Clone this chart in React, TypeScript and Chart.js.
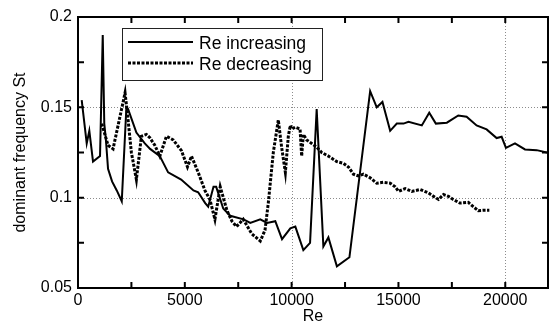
import React, { useEffect, useRef } from 'react';
import { Chart, registerables } from 'chart.js';

Chart.register(...registerables);

// Re increasing (solid)
const reInc = [173, 408, 530, 703, 1031, 1158, 1230, 1300, 1406, 1594, 1814, 2048, 2265, 2344, 2733, 3127, 3375, 3830, 4219, 4829, 5405, 5625, 5954, 6094, 6343, 6469, 6798, 7126, 7750, 8063, 8532, 8846, 9235, 9550, 9938, 10173, 10548, 10862, 11172, 11485, 11720, 12118, 12705, 13675, 13984, 14251, 14612, 14922, 15236, 15470, 16094, 16441, 16750, 17266, 17800, 18190, 18658, 19127, 19596, 19830, 20032, 20454, 20923, 21471, 22000];
const stInc = [0.154, 0.130, 0.137, 0.120, 0.123, 0.190, 0.141, 0.133, 0.116, 0.109, 0.104, 0.098, 0.150, 0.149, 0.136, 0.130, 0.127, 0.123, 0.114, 0.110, 0.104, 0.103, 0.097, 0.095, 0.106, 0.106, 0.094, 0.090, 0.088, 0.086, 0.088, 0.086, 0.087, 0.077, 0.083, 0.084, 0.071, 0.075, 0.149, 0.073, 0.078, 0.062, 0.067, 0.159, 0.150, 0.153, 0.137, 0.141, 0.141, 0.142, 0.140, 0.147, 0.141, 0.1415, 0.1455, 0.1448, 0.140, 0.1378, 0.133, 0.1337, 0.1276, 0.130, 0.1267, 0.1263, 0.1248];

// Re decreasing (dashed)
const reDec = [1111, 1406, 1641, 2203, 2344, 2499, 2733, 2968, 3202, 3375, 3595, 3830, 4140, 4454, 4843, 5124, 5312, 5626, 5940, 6174, 6409, 6657, 6971, 7205, 7421, 7735, 8134, 8532, 8753, 8907, 9142, 9376, 9530, 9706, 9845, 9938, 10000, 10160, 10394, 10469, 10548, 10703, 10938, 11172, 11406, 11720, 12110, 12423, 12658, 12892, 13126, 13361, 13675, 13984, 14298, 14612, 14847, 15002, 15316, 15625, 16019, 16408, 16642, 16877, 17111, 17346, 17566, 17875, 18269, 18503, 18738, 18972, 19254];
const stDec = [0.141, 0.129, 0.127, 0.158, 0.143, 0.125, 0.110, 0.134, 0.135, 0.133, 0.129, 0.123, 0.134, 0.132, 0.126, 0.117, 0.123, 0.114, 0.104, 0.099, 0.088, 0.106, 0.093, 0.087, 0.084, 0.088, 0.080, 0.076, 0.082, 0.097, 0.125, 0.143, 0.128, 0.114, 0.134, 0.140, 0.138, 0.139, 0.138, 0.123, 0.135, 0.132, 0.130, 0.128, 0.125, 0.123, 0.120, 0.119, 0.117, 0.113, 0.112, 0.113, 0.111, 0.108, 0.1085, 0.108, 0.106, 0.1035, 0.105, 0.1035, 0.1045, 0.1026, 0.1007, 0.099, 0.1017, 0.1007, 0.099, 0.097, 0.0974, 0.095, 0.0928, 0.093, 0.093];

const seriesNames = ['Re increasing', 'Re decreasing'];

const xTickValues = [0, 5000, 10000, 15000, 20000];
const xTickLabels = ['0', '5000', '10000', '15000', '20000'];
const yTickValues = [0.05, 0.1, 0.15, 0.2];
const yTickLabels = ['0.05', '0.1', '0.15', '0.2'];
const xTickMarks = [2500, 5000, 7500, 10000, 12500, 15000, 17500, 20000];
const yTickMarks = [0.075, 0.1, 0.125, 0.15, 0.175];
const xGridValues = [10000, 20000];
const yGridValues = [0.1, 0.15];

const FONT = "Arial, 'Liberation Sans', Helvetica, sans-serif";

const framePlugin = {
  id: 'frame',
  beforeDatasetsDraw(chart: any) {
    const { ctx, chartArea: a, scales } = chart;
    const x = scales.x, y = scales.y;
    ctx.save();
    ctx.strokeStyle = '#8c8c8c';
    ctx.lineWidth = 1;
    ctx.setLineDash([1, 2]);
    for (const v of xGridValues) {
      const px = Math.round(x.getPixelForValue(v)) + 0.5;
      ctx.beginPath(); ctx.moveTo(px, a.top); ctx.lineTo(px, a.bottom); ctx.stroke();
    }
    for (const v of yGridValues) {
      const py = Math.round(y.getPixelForValue(v)) + 0.5;
      ctx.beginPath(); ctx.moveTo(a.left, py); ctx.lineTo(a.right, py); ctx.stroke();
    }
    ctx.restore();
  },
  afterDatasetsDraw(chart: any) {
    const { ctx, chartArea: a, scales } = chart;
    const x = scales.x, y = scales.y;
    ctx.save();
    ctx.strokeStyle = '#000';
    ctx.lineWidth = 2;
    ctx.setLineDash([]);
    ctx.strokeRect(a.left, a.top, a.right - a.left, a.bottom - a.top);
    const tl = 6;
    for (const v of xTickMarks) {
      const px = x.getPixelForValue(v);
      ctx.beginPath();
      ctx.moveTo(px, a.bottom); ctx.lineTo(px, a.bottom - tl);
      ctx.moveTo(px, a.top); ctx.lineTo(px, a.top + tl);
      ctx.stroke();
    }
    for (const v of yTickMarks) {
      const py = y.getPixelForValue(v);
      ctx.beginPath();
      ctx.moveTo(a.left, py); ctx.lineTo(a.left + tl, py);
      ctx.moveTo(a.right, py); ctx.lineTo(a.right - tl, py);
      ctx.stroke();
    }
    // legend
    const lx = a.left + 44, ly = a.top + 11, lw = 200, lh = 52;
    ctx.fillStyle = '#fff';
    ctx.fillRect(lx, ly, lw, lh);
    ctx.lineWidth = 1;
    ctx.strokeStyle = '#222';
    ctx.strokeRect(lx + 0.5, ly + 0.5, lw, lh);
    const rows = [ly + 14, ly + 35];
    chart.data.datasets.forEach((ds: any, i: number) => {
      const yy = rows[i];
      ctx.strokeStyle = ds.borderColor;
      ctx.lineWidth = ds.borderWidth;
      ctx.setLineDash(ds.borderDash || []);
      ctx.beginPath();
      ctx.moveTo(lx + 6, yy); ctx.lineTo(lx + 71, yy);
      ctx.stroke();
      ctx.setLineDash([]);
      ctx.fillStyle = '#000';
      ctx.font = `17.5px ${FONT}`;
      ctx.textBaseline = 'alphabetic';
      ctx.textAlign = 'left';
      ctx.fillText(ds.label, lx + 77, yy + 6.5);
    });
    ctx.restore();
  },
};

export default function App() {
  const ref = useRef<HTMLCanvasElement | null>(null);
  useEffect(() => {
    if (!ref.current) return;
    const chart = new Chart(ref.current, {
      type: 'line',
      data: {
        datasets: [
          {
            label: seriesNames[0],
            data: reInc.map((r, i) => ({ x: r, y: stInc[i] })),
            borderColor: '#000',
            borderWidth: 2,
            pointRadius: 0,
            tension: 0,
            fill: false,
          },
          {
            label: seriesNames[1],
            data: reDec.map((r, i) => ({ x: r, y: stDec[i] })),
            borderColor: '#000',
            borderWidth: 3,
            borderDash: [3, 1.5],
            pointRadius: 0,
            tension: 0,
            fill: false,
          },
        ],
      },
      options: {
        animation: false,
        responsive: false,
        events: [],
        layout: { padding: { top: 17, right: 1, left: 0, bottom: 0 } },
        plugins: { legend: { display: false }, tooltip: { enabled: false } },
        scales: {
          x: {
            type: 'linear',
            min: 0,
            max: 22000,
            grid: { display: false, drawTicks: false },
            border: { display: false },
            afterBuildTicks: (s: any) => { s.ticks = xTickValues.map((v) => ({ value: v })); },
            afterFit: (s: any) => { s.height = 37; },
            ticks: {
              padding: 3,
              maxRotation: 0,
              autoSkip: false,
              color: '#000',
              font: { family: FONT, size: 16 },
              callback: (v: any) => xTickLabels[xTickValues.indexOf(Number(v))] ?? '',
            },
            title: {
              display: true,
              text: 'Re',
              color: '#000',
              font: { family: FONT, size: 16, lineHeight: 1 },
              padding: 0,
            },
          },
          y: {
            type: 'linear',
            min: 0.05,
            max: 0.2,
            grid: { display: false, drawTicks: false },
            border: { display: false },
            afterBuildTicks: (s: any) => { s.ticks = yTickValues.map((v) => ({ value: v })); },
            afterFit: (s: any) => { s.width = 78; },
            ticks: {
              padding: 6,
              autoSkip: false,
              color: '#000',
              font: { family: FONT, size: 16 },
              callback: (v: any) => {
                const i = yTickValues.findIndex((t) => Math.abs(t - Number(v)) < 1e-9);
                return i >= 0 ? yTickLabels[i] : '';
              },
            },
            title: {
              display: true,
              text: 'dominant frequency St',
              color: '#000',
              font: { family: FONT, size: 16, lineHeight: 1 },
              padding: { top: 13, bottom: 0 },
            },
          },
        },
      },
      plugins: [framePlugin],
    });
    return () => chart.destroy();
  }, []);
  return (
    <div style={{ position: 'fixed', left: 0, top: 0, width: 549, height: 325, background: '#fff' }}>
      <canvas ref={ref} width={549} height={325} style={{ display: 'block', width: 549, height: 325 }} />
    </div>
  );
}
